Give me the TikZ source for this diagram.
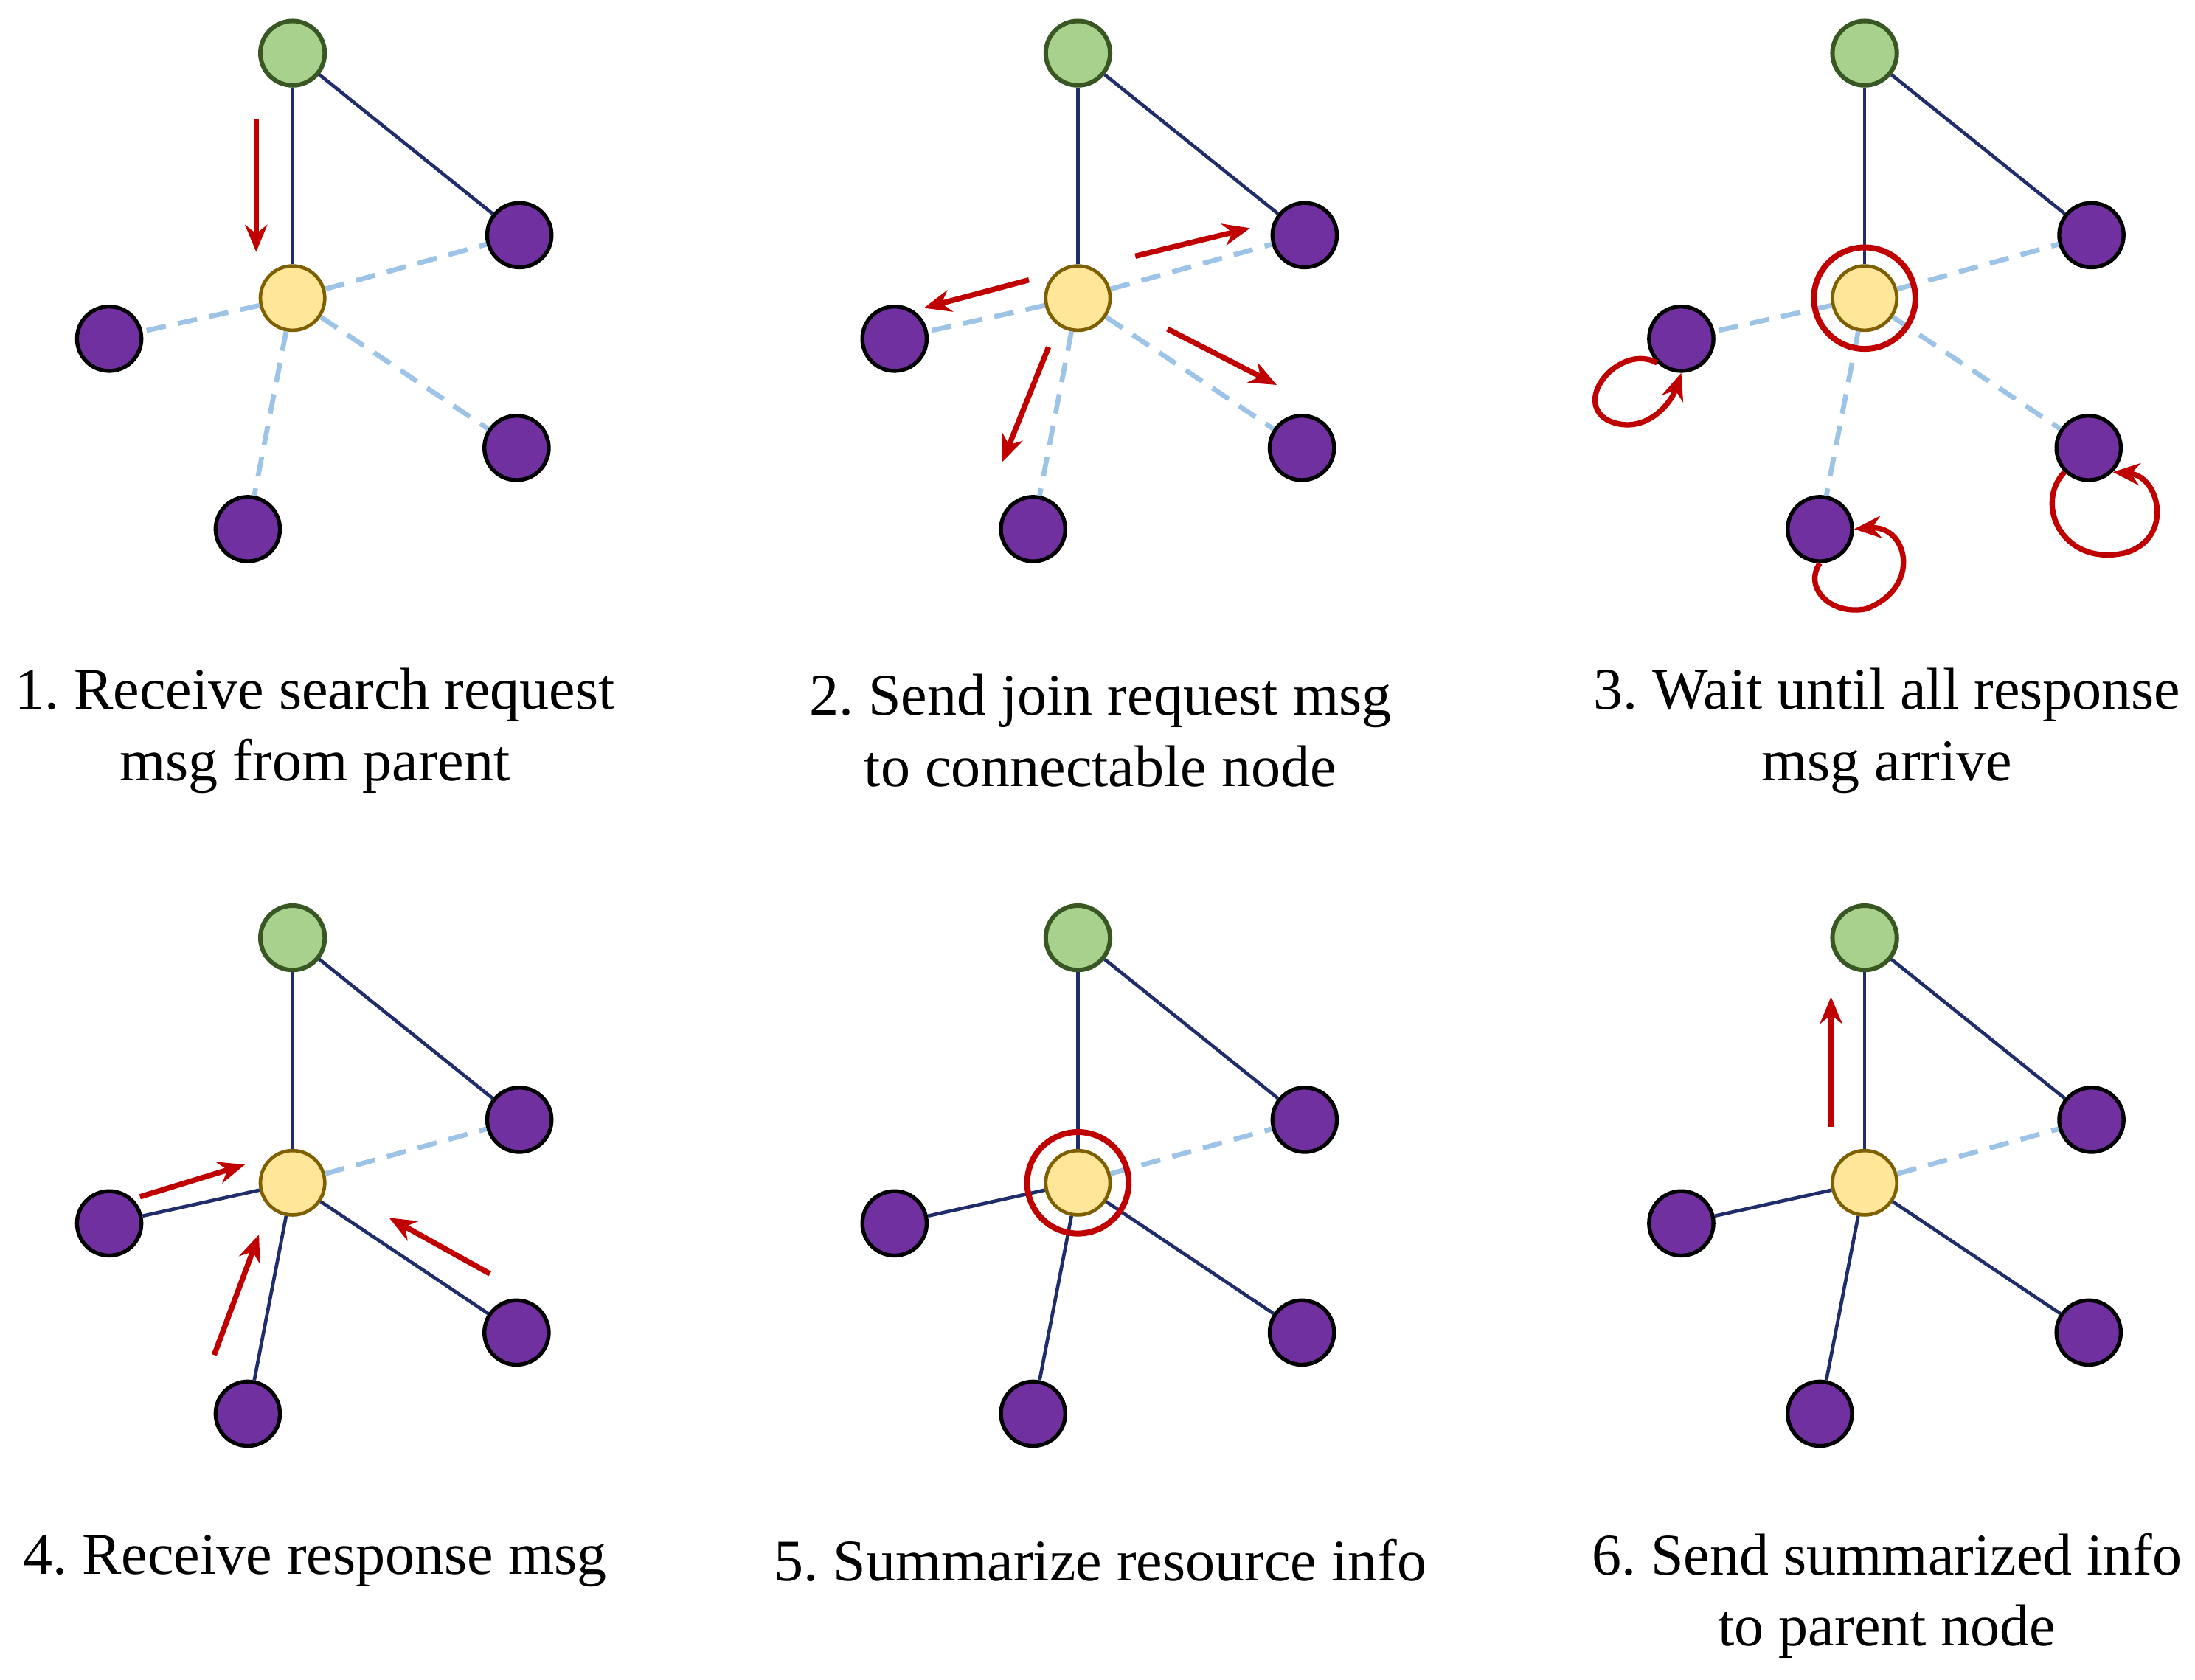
\documentclass[tikz,border=0pt]{standalone}
\usepackage{fontspec}
\setmainfont{Liberation Serif}
\frenchspacing
\usetikzlibrary{arrows.meta}
\definecolor{leafc}{HTML}{7030A0}
\definecolor{rootfill}{HTML}{A9D18E}
\definecolor{rootdraw}{HTML}{385723}
\definecolor{curfill}{HTML}{FFE699}
\definecolor{curdraw}{HTML}{7F6000}
\definecolor{linkc}{HTML}{1F2D6B}
\definecolor{candc}{HTML}{9DC3E6}
\definecolor{msgc}{HTML}{C00000}
\tikzset{
  leaf/.style={circle,fill=leafc,draw=black,line width=1.6pt,minimum size=0.92cm,inner sep=0pt},
  root/.style={circle,fill=rootfill,draw=rootdraw,line width=1.8pt,minimum size=0.92cm,inner sep=0pt},
  cur/.style={circle,fill=curfill,draw=curdraw,line width=1.4pt,minimum size=0.92cm,inner sep=0pt},
  link/.style={linkc,line width=1.4pt},
  cand/.style={candc,line width=2pt,dash pattern=on 8pt off 5pt},
  msg/.style={msgc,line width=2.2pt,-{Stealth[length=11pt,width=9pt]}},
  busy/.style={circle,draw=msgc,line width=2.4pt,minimum size=1.45cm,inner sep=0pt},
  caption/.style={align=center,font=\fontsize{24}{29}\selectfont}
}
% nodes of one panel
\newcommand{\panelnodes}[1]{
  \node[root] (#1g) at (209,38) {};
  \node[cur]  (#1y) at (209,213) {};
  \node[leaf] (#1l) at (78,242) {};
  \node[leaf] (#1u) at (371,168) {};
  \node[leaf] (#1r) at (369,320) {};
  \node[leaf] (#1b) at (177,378) {};
  \draw[link] (#1g) -- (#1y);
  \draw[link] (#1g) -- (#1u);
}
\begin{document}
\begin{tikzpicture}[x=0.02cm,y=-0.02cm]
  \useasboundingbox (0,0) rectangle (1568,1200);
  % row 1
  \begin{scope}
    \panelnodes{a}
    \foreach \n in {l,u,r,b} \draw[cand] (ay) -- (a\n);
    \coordinate (a1) at (183,85);
    \coordinate (a2) at (183,180);
    \draw[msg] (a1) -- (a2);
    \node[caption] (acap) at (225,522) {1. Receive search request\\msg from parent};
  \end{scope}
  \begin{scope}[shift={(561,0)}]
    \panelnodes{b}
    \foreach \n in {l,u,r,b} \draw[cand] (by) -- (b\n);
    \coordinate (b1) at (250,183); \coordinate (b2) at (332,163);
    \coordinate (b3) at (174,200); \coordinate (b4) at (99,220);
    \coordinate (b5) at (188,248); \coordinate (b6) at (155,330);
    \coordinate (b7) at (273,235); \coordinate (b8) at (351,275);
    \draw[msg] (b1) -- (b2);
    \draw[msg] (b3) -- (b4);
    \draw[msg] (b5) -- (b6);
    \draw[msg] (b7) -- (b8);
    \node[caption] (bcap) at (225,522) {2. Send join request msg\\to connectable node};
  \end{scope}
  \begin{scope}[shift={(1123,0)}]
    \panelnodes{c}
    \foreach \n in {l,u,r,b} \draw[cand] (cy) -- (c\n);
    \node[busy] (cm) at (cy) {};
    \draw[msg] (cl.south west) .. controls (35,245) and (0,285) .. (25,300)
      .. controls (50,312) and (70,290) .. (cl.south);
    \draw[msg] (cr.south west) .. controls (330,360) and (350,405) .. (395,395)
      .. controls (430,385) and (420,340) .. (cr.south east);
    \draw[msg] (cb.south) .. controls (165,420) and (185,440) .. (210,435)
      .. controls (250,420) and (240,375) .. (cb.east);
    \node[caption] (ccap) at (225,522) {3. Wait until all response\\msg arrive};
  \end{scope}
  % row 2
  \begin{scope}[shift={(0,632)}]
    \panelnodes{d}
    \foreach \n in {l,r,b} \draw[link] (dy) -- (d\n);
    \draw[cand] (dy) -- (du);
    \coordinate (d1) at (100,223); \coordinate (d2) at (175,200);
    \coordinate (d3) at (153,336); \coordinate (d4) at (185,250);
    \coordinate (d5) at (350,278); \coordinate (d6) at (278,238);
    \draw[msg] (d1) -- (d2);
    \draw[msg] (d3) -- (d4);
    \draw[msg] (d5) -- (d6);
    \node[caption] (dcap) at (225,483) {4. Receive response msg};
  \end{scope}
  \begin{scope}[shift={(561,632)}]
    \panelnodes{e}
    \foreach \n in {l,r,b} \draw[link] (ey) -- (e\n);
    \draw[cand] (ey) -- (eu);
    \node[busy] (em) at (ey) {};
    \node[caption] (ecap) at (225,483) {5. Summarize resource info};
  \end{scope}
  \begin{scope}[shift={(1123,632)}]
    \panelnodes{f}
    \foreach \n in {l,r,b} \draw[link] (fy) -- (f\n);
    \draw[cand] (fy) -- (fu);
    \coordinate (f1) at (185,173); \coordinate (f2) at (185,80);
    \draw[msg] (f1) -- (f2);
    \node[caption] (fcap) at (225,508) {6. Send summarized info\\to parent node};
  \end{scope}
\end{tikzpicture}
\end{document}
